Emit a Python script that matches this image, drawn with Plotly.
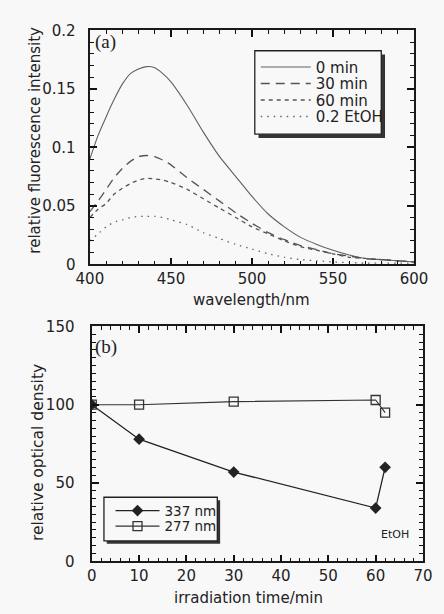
import plotly.graph_objects as go

# ---------------- data ----------------
wavelength = [400, 405, 410, 415, 420, 425, 430, 435, 440, 445, 450, 460, 470, 480,
              490, 500, 510, 520, 530, 540, 550, 560, 570, 580, 590, 600]
fl_0min = [0.090, 0.110, 0.126, 0.141, 0.154, 0.163, 0.167, 0.169, 0.168, 0.163, 0.156, 0.136, 0.113, 0.092,
           0.075, 0.058, 0.043, 0.032, 0.023, 0.017, 0.012, 0.008, 0.005, 0.004, 0.003, 0.002]
fl_30min = [0.045, 0.054, 0.064, 0.074, 0.082, 0.088, 0.092, 0.093, 0.092, 0.089, 0.085, 0.074, 0.064, 0.054,
            0.044, 0.035, 0.027, 0.021, 0.016, 0.0125, 0.009, 0.007, 0.005, 0.004, 0.003, 0.002]
fl_60min = [0.040, 0.047, 0.052, 0.060, 0.065, 0.069, 0.072, 0.0735, 0.073, 0.072, 0.070, 0.064, 0.056, 0.048,
            0.040, 0.032, 0.026, 0.020, 0.015, 0.012, 0.009, 0.006, 0.005, 0.004, 0.003, 0.002]
fl_etoh = [0.020, 0.026, 0.032, 0.036, 0.038, 0.040, 0.041, 0.041, 0.041, 0.040, 0.038, 0.034, 0.027, 0.022,
           0.017, 0.013, 0.009, 0.006, 0.004, 0.003, 0.002, 0.0015, 0.001, 0.001, 0.001, 0.001]

irr_time = [0, 10, 30, 60, 62]
od_337 = [100, 78, 57, 34, 60]
od_277 = [100, 100, 102, 103, 95]

W, H = 444, 614
def px(x): return x / W
def py(y): return 1 - y / H

FONT = "DejaVu Sans"
AX = "#1a1a1a"
TK = "#111111"
BG = "#f8f8f8"
NB = "\u00a0"

fig = go.Figure()

line_col = "#555555"
fig.add_trace(go.Scatter(x=wavelength, y=fl_0min, name="0 min", mode="lines", legend="legend",
                         line=dict(color="#606060", width=1.1, shape="spline", smoothing=0.6)))
fig.add_trace(go.Scatter(x=wavelength, y=fl_30min, name="30 min", mode="lines", legend="legend2",
                         line=dict(color=line_col, width=1.3, dash="9px,6px", shape="spline", smoothing=0.6)))
fig.add_trace(go.Scatter(x=wavelength, y=fl_60min, name="60 min", mode="lines", legend="legend3",
                         line=dict(color=line_col, width=1.3, dash="4px,4px", shape="spline", smoothing=0.6)))
fig.add_trace(go.Scatter(x=wavelength, y=fl_etoh, name="0.2 EtOH", mode="lines", legend="legend4",
                         line=dict(color="#666666", width=1.3, dash="1.5px,5px", shape="spline", smoothing=0.6)))

fig.add_trace(go.Scatter(x=irr_time, y=od_337, name="337 nm", mode="lines+markers",
                         xaxis="x2", yaxis="y2", legend="legend5",
                         line=dict(color="#222222", width=1.3),
                         marker=dict(symbol="diamond", size=9, color="#222222")))
fig.add_trace(go.Scatter(x=irr_time, y=od_277, name="277 nm", mode="lines+markers",
                         xaxis="x2", yaxis="y2", legend="legend6",
                         line=dict(color="#333333", width=1.1),
                         marker=dict(symbol="square-open", size=9, color="#333333", line=dict(width=1.3))))

tickfont = dict(family=FONT, size=15, color="#222")

def axis(domain, rng, anchor, dtick, mdtick, suffix=""):
    return dict(domain=domain, range=rng, anchor=anchor,
                tickmode="linear", tick0=rng[0], dtick=dtick, ticksuffix=suffix,
                showline=True, linecolor=AX, linewidth=1.5, mirror="allticks",
                ticks="inside", ticklen=7, tickwidth=1.6, tickcolor=TK,
                minor=dict(dtick=mdtick, ticks="inside", ticklen=4,
                           tickwidth=1.3, tickcolor=TK, showgrid=False),
                showgrid=False, zeroline=False, tickfont=tickfont)

fig.update_layout(
    width=W, height=H,
    margin=dict(l=0, r=0, t=0, b=0),
    paper_bgcolor=BG, plot_bgcolor=BG,
    font=dict(family=FONT, size=15, color="#222"),
    xaxis=axis([px(81), px(427)], [400, 600], "y", 50, 10),
    yaxis=axis([py(263), py(22)], [0, 0.2], "x", 0.05, 0.01, NB * 2),
    xaxis2=axis([px(83), px(436.5)], [0, 70], "y2", 10, 2),
    yaxis2=axis([py(569), py(327)], [0, 150], "x2", 50, 5, NB * 2 + "\u2009"),
    showlegend=True,
)

def leg(xleft, ycenter, iw, fs):
    return dict(x=px(xleft), y=py(ycenter), xanchor="left", yanchor="middle",
                bgcolor="rgba(0,0,0,0)", borderwidth=0, itemwidth=iw,
                font=dict(family=FONT, size=fs, color="#222"))
fig.update_layout(
    legend=leg(258, 60, 50, 15),
    legend2=leg(258, 77, 50, 15),
    legend3=leg(258, 94, 50, 15),
    legend4=leg(258, 111, 50, 15),
    legend5=leg(103, 517, 44, 13.5),
    legend6=leg(103, 533, 44, 13.5),
)

shapes = []
def framed_box(x0, y0, x1, y1, off=4):
    shapes.append(dict(type="rect", xref="paper", yref="paper",
                       x0=px(x0 + off), x1=px(x1 + off), y0=py(y1 + off), y1=py(y0 + off),
                       fillcolor="#333", line=dict(width=0), layer="above"))
    shapes.append(dict(type="rect", xref="paper", yref="paper",
                       x0=px(x0), x1=px(x1), y0=py(y1), y1=py(y0),
                       fillcolor=BG, line=dict(color="#222", width=1.3), layer="above"))
framed_box(257, 43, 392, 129)
framed_box(96, 503, 217, 548, off=3)
fig.update_layout(shapes=shapes)

ann = []
ann.append(dict(text="relative fluorescence intensity", xref="paper", yref="paper",
                x=px(22), y=py(135), textangle=-90, showarrow=False,
                font=dict(family=FONT, size=15, color="#222"), xanchor="center", yanchor="middle"))
ann.append(dict(text="wavelength/nm", xref="paper", yref="paper", x=px(253), y=py(300),
                showarrow=False, font=dict(family=FONT, size=15, color="#222"),
                xanchor="center", yanchor="middle"))
ann.append(dict(text="relative optical density", xref="paper", yref="paper",
                x=px(25), y=py(457), textangle=-90, showarrow=False,
                font=dict(family=FONT, size=15.5, color="#222"), xanchor="center", yanchor="middle"))
ann.append(dict(text="irradiation time/min", xref="paper", yref="paper", x=px(250), y=py(607),
                showarrow=False, font=dict(family=FONT, size=15, color="#222"),
                xanchor="center", yanchor="middle"))
ann.append(dict(text="(a)", xref="paper", yref="paper", x=px(84), y=py(34),
                showarrow=False, font=dict(family="Liberation Serif", size=19, color="#222"),
                xanchor="left", yanchor="middle"))
ann.append(dict(text="(b)", xref="paper", yref="paper", x=px(84), y=py(348),
                showarrow=False, font=dict(family="Liberation Serif", size=19, color="#222"),
                xanchor="left", yanchor="middle"))
ann.append(dict(text="EtOH", xref="x2", yref="y2", x=64, y=17, showarrow=False,
                font=dict(family=FONT, size=11, color="#222"), xanchor="center", yanchor="middle"))
fig.update_layout(annotations=ann)

fig.write_html("out.html")
